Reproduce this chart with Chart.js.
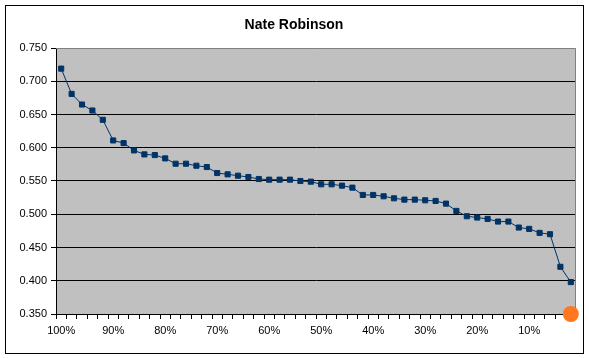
<!DOCTYPE html>
<html><head><meta charset="utf-8">
<script src="https://cdn.jsdelivr.net/npm/chart.js@4"></script>
<style>html,body{margin:0;padding:0;background:#fff}#wrap{width:589px;height:358px;position:relative}</style>
</head><body><div id="wrap"><canvas id="c" width="589" height="358"></canvas></div>
<script>
const chartTitle = "Nate Robinson";
const categories = ["100%","98%","96%","94%","92%","90%","88%","86%","84%","82%",
  "80%","78%","76%","74%","72%","70%","68%","66%","64%","62%",
  "60%","58%","56%","54%","52%","50%","48%","46%","44%","42%",
  "40%","38%","36%","34%","32%","30%","28%","26%","24%","22%",
  "20%","18%","16%","14%","12%","10%","8%","6%","4%","2%"];
const values = [0.719,0.681,0.665,0.656,0.642,0.611,0.607,0.596,0.590,0.589,
  0.584,0.576,0.576,0.573,0.571,0.562,0.560,0.558,0.556,0.553,
  0.552,0.552,0.552,0.550,0.549,0.545,0.545,0.543,0.540,0.529,
  0.529,0.527,0.524,0.522,0.522,0.521,0.520,0.516,0.505,0.497,
  0.495,0.493,0.489,0.489,0.480,0.478,0.472,0.470,0.421,0.398];
const highlight = [{x: "2%", y: 0.350}];
const yMin = 0.350, yMax = 0.750, yStep = 0.050;
const labelEvery = 5;

const FONT = "'Liberation Sans', Arial, sans-serif";

const decor = {
  id: 'decor',
  beforeDraw(chart) {
    const {ctx, chartArea: a} = chart;
    ctx.save();
    ctx.fillStyle = '#fff';
    ctx.fillRect(0, 0, chart.width, chart.height);
    ctx.fillStyle = '#C0C0C0';
    ctx.fillRect(a.left, a.top, a.right - a.left, a.bottom - a.top);
    ctx.restore();
  },
  beforeDatasetsDraw(chart) {
    const {ctx, chartArea: a} = chart;
    ctx.save();
    ctx.strokeStyle = '#808080';
    ctx.lineWidth = 1;
    ctx.beginPath();
    ctx.moveTo(a.left, a.top + 0.5);
    ctx.lineTo(a.right - 0.5, a.top + 0.5);
    ctx.lineTo(a.right - 0.5, a.bottom);
    ctx.stroke();
    ctx.restore();
  },
  afterDraw(chart) {
    const {ctx} = chart;
    ctx.save();
    ctx.strokeStyle = '#000';
    ctx.lineWidth = 1;
    ctx.strokeRect(5.5, 5.5, chart.width - 11, chart.height - 10);
    ctx.restore();
  }
};

new Chart(document.getElementById('c'), {
  type: 'line',
  data: {
    labels: categories,
    datasets: [{
      data: values,
      borderColor: '#003366',
      backgroundColor: '#003366',
      borderWidth: 1,
      pointStyle: 'rect',
      pointRadius: 3.6,
      pointBorderWidth: 1,
      pointHoverRadius: 3.6,
      tension: 0,
      fill: false
    }, {
      data: highlight,
      showLine: false,
      pointStyle: 'circle',
      pointRadius: 8,
      pointBorderWidth: 0,
      backgroundColor: '#FF7820',
      borderColor: '#FF7820',
      clip: false
    }]
  },
  options: {
    responsive: false,
    animation: false,
    events: [],
    layout: {padding: {left: 6, right: 7, top: 0, bottom: 0}},
    plugins: {
      legend: {display: false},
      tooltip: {enabled: false},
      title: {
        display: true,
        text: chartTitle,
        color: '#000',
        font: {family: FONT, size: 14, weight: 'bold', lineHeight: 1.2},
        padding: {top: 17, bottom: 14.2}
      }
    },
    scales: {
      x: {
        type: 'category',
        offset: true,
        grid: {offset: true, drawOnChartArea: false, tickLength: 5, tickColor: '#000', color: '#000'},
        border: {display: true, color: '#000', width: 1},
        ticks: {
          autoSkip: false, maxRotation: 0, minRotation: 0, padding: 5,
          color: '#000', font: {family: FONT, size: 11},
          callback: (v, i) => (i % labelEvery === 0 ? categories[i] : '')
        },
        afterFit(s) { s.height = 44; }
      },
      y: {
        min: yMin, max: yMax,
        grid: {
          color: (c) => (c.tick && Math.abs(c.tick.value - yMax) < 1e-9 ? 'rgba(0,0,0,0)' : '#000'),
          tickColor: '#000', tickLength: 5, lineWidth: 1
        },
        border: {display: true, color: '#000', width: 1},
        ticks: {
          stepSize: yStep, padding: 4, color: '#000', font: {family: FONT, size: 11},
          callback: (v) => Number(v).toFixed(3)
        },
        afterFit(s) { s.width = 50; }
      },
      yR: {
        position: 'right',
        display: true,
        grid: {display: false, drawTicks: false},
        border: {display: false},
        ticks: {display: false},
        afterFit(s) { s.width = 6; }
      }
    }
  },
  plugins: [decor]
});
</script>
</body></html>
